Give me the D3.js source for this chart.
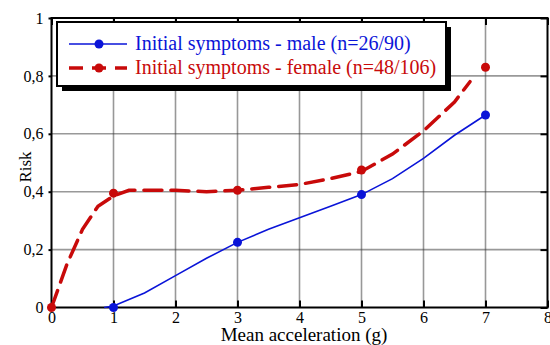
<!DOCTYPE html>
<html>
<head>
<meta charset="utf-8">
<script src="https://cdn.jsdelivr.net/npm/d3@7"></script>
<style>
  html, body { margin: 0; padding: 0; background: #fff; }
  svg { display: block; }
</style>
</head>
<body>
<svg id="chart" width="550" height="345"></svg>
<script>
// Axis ticks
const xTicks = [0, 1, 2, 3, 4, 5, 6, 7, 8];
const yTicks = [0, 0.2, 0.4, 0.6, 0.8, 1];

// Observed risk at each mean acceleration
const pointX = [1, 3, 5, 7];
const maleRisk = [0, 0.225, 0.39, 0.665];
const femalePointX = [0, 1, 3, 5, 7];
const femaleRisk = [0, 0.395, 0.405, 0.475, 0.83];

// Fitted risk curves
const maleCurveX = [0.85, 1, 1.5, 2, 2.5, 3, 3.5, 4, 4.5, 5, 5.5, 6, 6.5, 7];
const maleCurveY = [0, 0.005, 0.05, 0.11, 0.17, 0.225, 0.27, 0.31, 0.35, 0.39, 0.445, 0.515, 0.595, 0.665];
const femaleCurveX = [0, 0.25, 0.5, 0.75, 1, 1.25, 1.5, 2, 2.5, 3, 3.5, 4, 4.5, 5, 5.5, 6, 6.5, 6.75];
const femaleCurveY = [0, 0.15, 0.27, 0.35, 0.385, 0.405, 0.405, 0.405, 0.4, 0.405, 0.415, 0.425, 0.445, 0.47, 0.53, 0.61, 0.71, 0.78];

const seriesNames = ["Initial symptoms - male (n=26/90)", "Initial symptoms - female (n=48/106)"];
const blue = "#0a14d8";
const red = "#c80a0a";
const serif = "Liberation Serif";

const svg = d3.select("#chart");
const x = d3.scaleLinear().domain([0, 8]).range([51.5, 547.5]);
const y = d3.scaleLinear().domain([0, 1]).range([307.5, 18]);
const fmt = d => d === 0 ? "0" : d === 1 ? "1" : d3.format(".1f")(d).replace(".", ",");

// Serif text helper
const serifText = (sel, size) => sel.attr("font-family", serif).attr("font-size", size)
  .style("font-family", serif).style("font-size", size + "px");

// Dotted grid
const grid = svg.append("g").attr("stroke", "#333").attr("stroke-width", 1.6).attr("stroke-dasharray", "1,1");
grid.selectAll("line.v").data(xTicks.slice(1, -1)).join("line")
  .attr("x1", d => x(d)).attr("x2", d => x(d)).attr("y1", y(0)).attr("y2", y(1));
grid.selectAll("line.h").data(yTicks.slice(1, -1)).join("line")
  .attr("x1", x(0)).attr("x2", x(8)).attr("y1", d => y(d)).attr("y2", d => y(d));

// Axes
const xAxis = svg.append("g").attr("transform", `translate(0,${y(0)})`)
  .call(d3.axisBottom(x).tickValues(xTicks).tickSize(-7).tickPadding(6).tickFormat(d3.format("d")));
const yAxis = svg.append("g").attr("transform", `translate(${x(0)},0)`)
  .call(d3.axisLeft(y).tickValues(yTicks).tickSize(3).tickPadding(5).tickFormat(fmt));
const yAxisR = svg.append("g").attr("transform", `translate(${x(8)},0)`)
  .call(d3.axisRight(y).tickValues(yTicks).tickSize(-7).tickFormat(""));
const xAxisT = svg.append("g").attr("transform", `translate(0,${y(1)})`)
  .call(d3.axisTop(x).tickValues(xTicks).tickSize(-7).tickFormat(""));
[xAxis, yAxis, yAxisR, xAxisT].forEach(g => {
  g.attr("font-family", serif).attr("font-size", 16);
  g.select(".domain").remove();
  g.selectAll(".tick line").attr("stroke", "#000").attr("stroke-width", 2);
  serifText(g.selectAll(".tick text").attr("fill", "#000"), 16);
});
xAxis.selectAll(".tick text").attr("dy", "0.62em");

// Plot frame
svg.append("rect").attr("x", x(0)).attr("y", y(1))
  .attr("width", x(8) - x(0)).attr("height", y(0) - y(1))
  .attr("fill", "none").attr("stroke", "#000").attr("stroke-width", 2);

// Curves
const line = d3.line().x(d => x(d[0])).y(d => y(d[1]));
svg.append("path").datum(maleCurveX.map((v, i) => [v, maleCurveY[i]]))
  .attr("d", line).attr("fill", "none").attr("stroke", blue).attr("stroke-width", 1.6);
svg.append("path").datum(femaleCurveX.map((v, i) => [v, femaleCurveY[i]]))
  .attr("d", line).attr("fill", "none").attr("stroke", red).attr("stroke-width", 3.5)
  .attr("stroke-dasharray", "18,9").attr("stroke-linecap", "round");

// Points
svg.append("g").selectAll("circle").data(pointX).join("circle")
  .attr("cx", d => x(d)).attr("cy", (d, i) => y(maleRisk[i])).attr("r", 4.5).attr("fill", blue);
svg.append("g").selectAll("circle").data(femalePointX).join("circle")
  .attr("cx", d => x(d)).attr("cy", (d, i) => y(femaleRisk[i])).attr("r", 4.5).attr("fill", red);

// Axis titles
serifText(svg.append("text").attr("x", 304).attr("y", 341).attr("text-anchor", "middle"), 19)
  .text("Mean acceleration (g)");
serifText(svg.append("text").attr("transform", "translate(31,167) rotate(-90)").attr("text-anchor", "middle"), 17)
  .text("Risk");

// Legend with drop shadow
const lg = svg.append("g");
const bx = 57, by = 22, bw = 389, bh = 64;
lg.append("rect").attr("x", bx + 5).attr("y", by + 5).attr("width", bw).attr("height", bh).attr("fill", "#000");
lg.append("rect").attr("x", bx).attr("y", by).attr("width", bw).attr("height", bh)
  .attr("fill", "#fff").attr("stroke", "#000").attr("stroke-width", 2);
const rows = [
  { name: seriesNames[0], color: blue, width: 1.6, dash: null, yy: 44 },
  { name: seriesNames[1], color: red, width: 3.5, dash: "14,9", yy: 68 }
];
rows.forEach(r => {
  lg.append("line").attr("x1", 69).attr("x2", 127).attr("y1", r.yy).attr("y2", r.yy)
    .attr("stroke", r.color).attr("stroke-width", r.width).attr("stroke-dasharray", r.dash);
  lg.append("circle").attr("cx", 99).attr("cy", r.yy).attr("r", 4.5).attr("fill", r.color);
  serifText(lg.append("text").attr("x", 135).attr("y", r.yy + 6), 20)
    .attr("fill", r.color).text(r.name);
});
</script>
</body>
</html>
